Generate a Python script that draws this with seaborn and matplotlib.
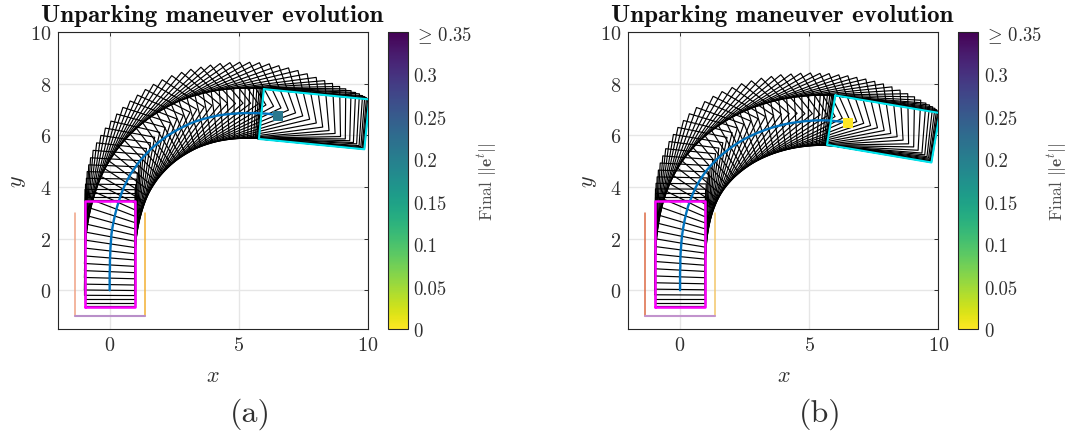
import numpy as np
import pandas as pd
import matplotlib
matplotlib.use('Agg')
import matplotlib.pyplot as plt
import seaborn as sns

# poses: rear axle x, y and heading (deg clockwise from +y)
x_a = [0, 0, 0, 0, 0, 0, .01, .01, .02, .03, .05, .07, .11, .16, .22, .29, .37, .46, .56, .68, .81, .97, 1.13, 1.31,
       1.50, 1.70, 1.91, 2.13, 2.36, 2.60, 2.85, 3.10, 3.36, 3.62, 3.89, 4.16, 4.43, 4.70, 4.97, 5.23, 5.47, 5.68,
       5.87, 6.03, 6.17, 6.28, 6.36, 6.42, 6.46, 6.49, 6.51, 6.52]
y_a = [0, .05, .15, .30, .45, .65, .87, 1.12, 1.37, 1.63, 1.90, 2.17, 2.44, 2.71, 2.97, 3.24, 3.50, 3.76, 4.01, 4.26,
       4.50, 4.73, 4.96, 5.17, 5.37, 5.56, 5.74, 5.91, 6.06, 6.20, 6.33, 6.45, 6.55, 6.63, 6.70, 6.76, 6.80, 6.83,
       6.85, 6.86, 6.86, 6.86, 6.85, 6.84, 6.83, 6.81, 6.80, 6.79, 6.775, 6.77, 6.765, 6.76]
head_a = [0, 0, 0, 0, .3, .6, 1, 1.5, 2.3, 3.3, 4.6, 6.5, 8.5, 10.5, 13, 15.5, 18, 21, 24, 27, 30, 33, 36.5, 40,
          43, 46.5, 49.5, 52.5, 55.5, 58.5, 61.5, 64.5, 67.5, 70.5, 73.5, 76.5, 79.5, 82.5, 85, 87, 89, 90.5, 91.5,
          92.5, 93.2, 94, 94.5, 95, 95.3, 95.5, 95.55, 95.6]

x_b = [0, 0, 0, 0, 0, 0, .01, .01, .02, .04, .06, .09, .13, .18, .24, .31, .40, .50, .61, .74, .89, 1.05, 1.23, 1.42,
       1.62, 1.83, 2.05, 2.28, 2.52, 2.76, 3.01, 3.27, 3.53, 3.79, 4.06, 4.33, 4.60, 4.87, 5.13, 5.38, 5.61, 5.82,
       6.00, 6.13, 6.24, 6.32, 6.38, 6.42, 6.45, 6.47, 6.49]
y_b = [0, .05, .15, .30, .47, .68, .92, 1.17, 1.43, 1.69, 1.95, 2.21, 2.47, 2.73, 2.99, 3.25, 3.50, 3.75, 3.99, 4.22,
       4.45, 4.67, 4.87, 5.07, 5.25, 5.42, 5.58, 5.73, 5.87, 5.99, 6.10, 6.20, 6.29, 6.36, 6.43, 6.48, 6.52, 6.55,
       6.57, 6.58, 6.58, 6.57, 6.55, 6.54, 6.53, 6.52, 6.51, 6.50, 6.49, 6.485, 6.48]
head_b = [0, 0, 0, 0, .3, .7, 1.2, 2, 3, 4.3, 5.8, 7.5, 9.5, 11.5, 14, 16.5, 19.5, 23, 26.5, 30, 34, 37.5, 41, 44.5,
          48, 51, 54.5, 57.5, 60.5, 63.5, 66, 69, 71.5, 74, 76.5, 79, 81.5, 84, 86.5, 89, 91, 93, 94.5, 95.5, 96.5,
          97.3, 98, 98.6, 99, 99.3, 99.6]

final_error_a = 0.21
final_error_b = 0.0

cbar_ticks = [0, 0.05, 0.1, 0.15, 0.2, 0.25, 0.3, 0.35]
cbar_labels = ['0', '0.05', '0.1', '0.15', '0.2', '0.25', '0.3', r'$\geq\,$0.35']

sns.set_theme(style='whitegrid')
plt.rcParams['font.family'] = ['cmr10', 'DejaVu Sans']
plt.rcParams['mathtext.fontset'] = 'cm'
plt.rcParams['axes.unicode_minus'] = False
plt.rcParams['axes.formatter.use_mathtext'] = True

W, H = 1070, 435
TEXT = '#303030'
viridis = sns.color_palette('viridis_r', as_cmap=True)
norm = matplotlib.colors.Normalize(0, 0.35)

# car outline around the rear axle
REAR, FRONT, HALF = 0.65, 3.45, 0.97


def car_outline(x, y, head):
    t = np.deg2rad(head)
    hx, hy = np.sin(t), np.cos(t)
    nx, ny = -hy, hx
    along = np.array([-REAR, FRONT, FRONT, -REAR, -REAR])
    side = np.array([HALF, HALF, -HALF, -HALF, HALF])
    return x + along * hx + side * nx, y + along * hy + side * ny


def draw_panel(fig, left, xs, ys, heads, err, walls, letter):
    ax = fig.add_axes([left / W, 1 - 330 / H, 310 / W, 297 / H])
    cax = fig.add_axes([(left + 329.5) / W, 1 - 330 / H, 20.5 / W, 297 / H])

    ax.set_facecolor('white')
    ax.grid(True, color='#e6e6e6', lw=1.0)
    ax.set_axisbelow(True)

    for x, y, h in zip(xs, ys, heads):
        cx, cy = car_outline(x, y, h)
        ax.plot(cx, cy, color='black', lw=0.85, zorder=2)

    # parking slot walls
    ax.plot([-1.35, -1.35], [-1, 3], color=walls[0], lw=1.1, zorder=2)
    ax.plot([1.35, 1.35], [-1, 3], color=walls[1], lw=1.1, zorder=2)
    ax.plot([-1.35, 1.35], [-1, -1], color=walls[2], lw=1.5, zorder=2)

    path = pd.DataFrame({'x': xs, 'y': ys})
    sns.lineplot(data=path, x='x', y='y', sort=False, estimator=None, color='#0072BD', lw=1.7, ax=ax, zorder=3)

    cx, cy = car_outline(xs[0], ys[0], heads[0])
    ax.plot(cx, cy, color='#ff00ff', lw=1.8, zorder=4)
    cx, cy = car_outline(xs[-1], ys[-1], heads[-1])
    ax.plot(cx, cy, color='#00e5ee', lw=1.5, zorder=4)

    sns.scatterplot(x=[xs[-1]], y=[ys[-1]], marker='s', s=54, color=viridis(norm(err)), linewidth=0, ax=ax, zorder=5)

    ax.set_xlim(-2, 10)
    ax.set_ylim(-1.5, 10)
    ax.set_xticks([0, 5, 10])
    ax.set_yticks([0, 2, 4, 6, 8, 10])
    ax.tick_params(labelsize=14.5, colors=TEXT, length=3, direction='in', pad=5, width=0.7, top=True, right=True)
    ax.set_xlabel('$x$', fontsize=16, color=TEXT, labelpad=8)
    ax.set_ylabel('$y$', fontsize=16, color=TEXT, labelpad=1)
    for s in ax.spines.values():
        s.set_color('#262626')
        s.set_linewidth(0.8)
    ax.set_title('Unparking maneuver evolution', family='cmb10', fontsize=18, color='#111111', pad=8, x=0.497)

    sm = matplotlib.cm.ScalarMappable(norm=norm, cmap=viridis)
    cb = fig.colorbar(sm, cax=cax, ticks=cbar_ticks)
    cb.ax.set_yticklabels(cbar_labels)
    cb.ax.tick_params(labelsize=13.5, colors=TEXT, length=3, direction='in', pad=4, width=0.7)
    cb.outline.set_edgecolor('#262626')
    cb.outline.set_linewidth(0.8)
    cax.grid(False)
    cax.text(4.85, 0.5, r'Final $||\mathbf{e}^t||$', transform=cax.transAxes, rotation=90, fontsize=12.5,
             color='#505050', ha='center', va='center')

    ax.text(0.62, -0.285, letter, transform=ax.transAxes, fontsize=23, color=TEXT, ha='center', va='center')
    return ax


fig = plt.figure(figsize=(W / 100, H / 100), dpi=100, facecolor='white')
draw_panel(fig, 58, x_a, y_a, head_a, final_error_a, ['#f0a284', '#f2b033', '#b98fc9'], '(a)')
draw_panel(fig, 628.4, x_b, y_b, head_b, final_error_b, ['#dd6a44', '#f2c66a', '#c293cd'], '(b)')
fig.savefig('out.png', dpi=100)
